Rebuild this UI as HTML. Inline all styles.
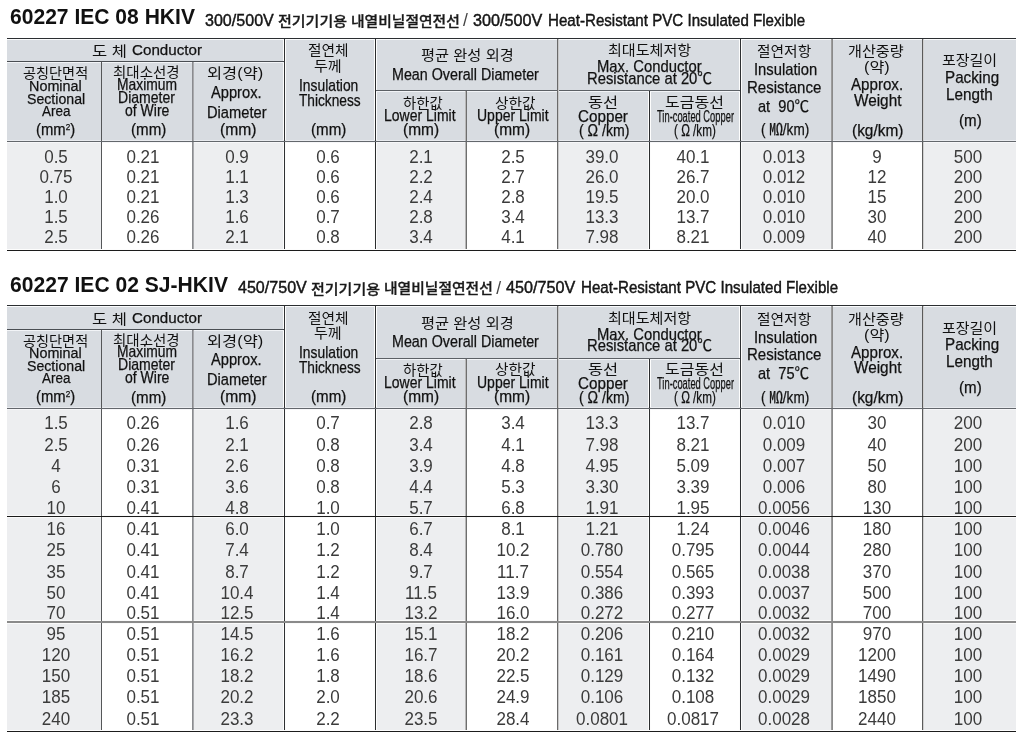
<!DOCTYPE html>
<html><head><meta charset="utf-8"><style>
html,body{margin:0;padding:0;background:#fff;}
body{width:1024px;height:741px;overflow:hidden;position:relative;font-family:"Liberation Sans", "Noto Sans CJK KR", "NanumGothic", sans-serif;}
.r{position:absolute;}
.t{position:absolute;text-align:center;white-space:nowrap;font-family:"Liberation Sans", Arial, sans-serif;}
.t.k{font-family:"Liberation Sans", "Noto Sans CJK KR", "NanumGothic", sans-serif;}
.h{position:absolute;white-space:nowrap;font-family:"Liberation Sans", Arial, sans-serif;-webkit-text-stroke:0.25px currentColor;}
.h.k{font-family:"Liberation Sans", "Noto Sans CJK KR", "NanumGothic", sans-serif;-webkit-text-stroke:0;}
.h.km{font-family:"Liberation Sans", "Noto Sans CJK KR", "NanumGothic", sans-serif;}
.tt{position:absolute;white-space:nowrap;color:#111;font-family:"Liberation Sans", "Noto Sans CJK KR", "NanumGothic", sans-serif;}
sup{font-size:55%;vertical-align:0;position:relative;top:-0.62em;line-height:0;}
</style></head><body>
<div class="h" style="left:9.80px;top:6px;font-size:22.6px;line-height:22.6px;color:#111;transform:scaleX(0.932);transform-origin:0 0;font-weight:bold;-webkit-text-stroke:0;">60227 IEC 08 HKIV</div>
<div class="h" style="left:9.80px;top:274px;font-size:22.6px;line-height:22.6px;color:#111;transform:scaleX(0.933);transform-origin:0 0;font-weight:bold;-webkit-text-stroke:0;">60227 IEC 02 SJ-HKIV</div>
<div class="h" style="left:204.80px;top:13px;font-size:16.9px;line-height:16.9px;color:#1a1a1a;-webkit-text-stroke:0.4px #000;transform:scaleX(0.951);transform-origin:0 0;">300/500V</div>
<div class="h k" style="left:277.90px;top:15px;font-size:13.3px;line-height:13.3px;color:#1a1a1a;-webkit-text-stroke:0.3px #1a1a1a !important;transform:scaleX(1.128);transform-origin:0 0;font-weight:500;">전기기기용</div>
<div class="h k" style="left:350.70px;top:15px;font-size:13.3px;line-height:13.3px;color:#1a1a1a;-webkit-text-stroke:0.3px #1a1a1a !important;transform:scaleX(1.112);transform-origin:0 0;font-weight:500;">내열비닐절연전선</div>
<div class="h" style="left:463.10px;top:12px;font-size:17.5px;line-height:17.5px;color:#1a1a1a;-webkit-text-stroke:0;color:#444;">/</div>
<div class="h" style="left:473.00px;top:13px;font-size:16.9px;line-height:16.9px;color:#1a1a1a;-webkit-text-stroke:0.4px #000;transform:scaleX(0.958);transform-origin:0 0;">300/500V</div>
<div class="h" style="left:548.00px;top:13px;font-size:16.9px;line-height:16.9px;color:#1a1a1a;-webkit-text-stroke:0.4px #000;transform:scaleX(0.895);transform-origin:0 0;">Heat-Resistant PVC Insulated Flexible</div>
<div class="h" style="left:238.00px;top:280px;font-size:16.9px;line-height:16.9px;color:#1a1a1a;-webkit-text-stroke:0.4px #000;transform:scaleX(0.951);transform-origin:0 0;">450/750V</div>
<div class="h k" style="left:311.10px;top:283px;font-size:13.3px;line-height:13.3px;color:#1a1a1a;-webkit-text-stroke:0.3px #1a1a1a !important;transform:scaleX(1.128);transform-origin:0 0;font-weight:500;">전기기기용</div>
<div class="h k" style="left:383.90px;top:282px;font-size:13.3px;line-height:13.3px;color:#1a1a1a;-webkit-text-stroke:0.3px #1a1a1a !important;transform:scaleX(1.112);transform-origin:0 0;font-weight:500;">내열비닐절연전선</div>
<div class="h" style="left:496.30px;top:280px;font-size:17.5px;line-height:17.5px;color:#1a1a1a;-webkit-text-stroke:0;color:#444;">/</div>
<div class="h" style="left:506.20px;top:280px;font-size:16.9px;line-height:16.9px;color:#1a1a1a;-webkit-text-stroke:0.4px #000;transform:scaleX(0.958);transform-origin:0 0;">450/750V</div>
<div class="h" style="left:581.20px;top:280px;font-size:16.9px;line-height:16.9px;color:#1a1a1a;-webkit-text-stroke:0.4px #000;transform:scaleX(0.895);transform-origin:0 0;">Heat-Resistant PVC Insulated Flexible</div>
<div class="r" style="left:7px;top:38px;width:1009px;height:103px;background:#d8dce1"></div>
<div class="r" style="left:7px;top:142px;width:94px;height:108px;background:#edeef0"></div>
<div class="r" style="left:101px;top:142px;width:91px;height:108px;background:#fff"></div>
<div class="r" style="left:192px;top:142px;width:92px;height:108px;background:#edeef0"></div>
<div class="r" style="left:284px;top:142px;width:91px;height:108px;background:#fff"></div>
<div class="r" style="left:375px;top:142px;width:91px;height:108px;background:#edeef0"></div>
<div class="r" style="left:466px;top:142px;width:91px;height:108px;background:#fff"></div>
<div class="r" style="left:557px;top:142px;width:92px;height:108px;background:#edeef0"></div>
<div class="r" style="left:649px;top:142px;width:91px;height:108px;background:#fff"></div>
<div class="r" style="left:740px;top:142px;width:92px;height:108px;background:#edeef0"></div>
<div class="r" style="left:832px;top:142px;width:90px;height:108px;background:#fff"></div>
<div class="r" style="left:922px;top:142px;width:94px;height:108px;background:#edeef0"></div>
<div class="r" style="left:283px;top:39px;width:1px;height:210px;background:#fdfdfd"></div>
<div class="r" style="left:285px;top:39px;width:1px;height:210px;background:#fdfdfd"></div>
<div class="r" style="left:374px;top:39px;width:1px;height:210px;background:#fdfdfd"></div>
<div class="r" style="left:376px;top:39px;width:1px;height:210px;background:#fdfdfd"></div>
<div class="r" style="left:648px;top:91px;width:1px;height:158px;background:#fdfdfd"></div>
<div class="r" style="left:650px;top:91px;width:1px;height:158px;background:#fdfdfd"></div>
<div class="r" style="left:739px;top:39px;width:1px;height:210px;background:#fdfdfd"></div>
<div class="r" style="left:741px;top:39px;width:1px;height:210px;background:#fdfdfd"></div>
<div class="r" style="left:7px;top:38px;width:1009px;height:1px;background:#2b2e31"></div>
<div class="r" style="left:7px;top:39px;width:1009px;height:1px;background:#fbfcfd"></div>
<div class="r" style="left:7px;top:61px;width:277px;height:1px;background:#4a4e53"></div>
<div class="r" style="left:7px;top:62px;width:277px;height:1px;background:#f2f4f7"></div>
<div class="r" style="left:375px;top:90px;width:365px;height:1px;background:#5c6065"></div>
<div class="r" style="left:375px;top:91px;width:365px;height:1px;background:#f2f4f7"></div>
<div class="r" style="left:7px;top:140px;width:1009px;height:1px;background:#e9ebef"></div>
<div class="r" style="left:7px;top:141px;width:1009px;height:1px;background:#63676c"></div>
<div class="r" style="left:7px;top:142px;width:1009px;height:1px;background:#f7f7f9"></div>
<div class="r" style="left:7px;top:249px;width:1009px;height:1px;background:#fdfdfd"></div>
<div class="r" style="left:7px;top:250px;width:1009px;height:1px;background:#1c1c1c"></div>
<div class="r" style="left:101px;top:62px;width:1px;height:187px;background:#555759"></div>
<div class="r" style="left:192px;top:62px;width:1px;height:187px;background:#8a8b8f"></div>
<div class="r" style="left:193px;top:62px;width:1px;height:187px;background:#a9aaad"></div>
<div class="r" style="left:284px;top:39px;width:1px;height:210px;background:#2e3032"></div>
<div class="r" style="left:375px;top:39px;width:1px;height:210px;background:#2b2d2e"></div>
<div class="r" style="left:465px;top:91px;width:1px;height:158px;background:#b8b8b8"></div>
<div class="r" style="left:466px;top:91px;width:1px;height:158px;background:#6e6e6e"></div>
<div class="r" style="left:557px;top:39px;width:1px;height:210px;background:#6a6a6a"></div>
<div class="r" style="left:558px;top:39px;width:1px;height:210px;background:#c8c8c8"></div>
<div class="r" style="left:649px;top:91px;width:1px;height:158px;background:#2b2d2f"></div>
<div class="r" style="left:740px;top:39px;width:1px;height:210px;background:#2e3032"></div>
<div class="r" style="left:831px;top:39px;width:1px;height:210px;background:#9c9c9c"></div>
<div class="r" style="left:832px;top:39px;width:1px;height:210px;background:#8a8a8a"></div>
<div class="r" style="left:922px;top:39px;width:1px;height:210px;background:#5a5a5a"></div>
<div class="r" style="left:923px;top:39px;width:1px;height:210px;background:#d0d0d0"></div>
<div class="r" style="left:7px;top:141px;width:1009px;height:1px;background:#63676c"></div>
<div class="r" style="left:7px;top:250px;width:1009px;height:1px;background:#1c1c1c"></div>
<div class="h k" style="left:91.80px;top:44px;font-size:14px;line-height:14px;color:#111;transform:scaleX(1.179);transform-origin:0 0;">도 체</div>
<div class="h" style="left:131.70px;top:42px;font-size:15.4px;line-height:15.4px;color:#111;transform:scaleX(0.986);transform-origin:0 0;">Conductor</div>
<div class="h k" style="left:22.90px;top:66px;font-size:14px;line-height:14px;color:#111;transform:scaleX(1.012);transform-origin:0 0;">공칭단면적</div>
<div class="h" style="left:29.30px;top:78px;font-size:15.4px;line-height:15.4px;color:#111;transform:scaleX(0.934);transform-origin:0 0;">Nominal</div>
<div class="h" style="left:27.00px;top:91px;font-size:15.4px;line-height:15.4px;color:#111;transform:scaleX(0.919);transform-origin:0 0;">Sectional</div>
<div class="h" style="left:41.90px;top:103px;font-size:15.4px;line-height:15.4px;color:#111;transform:scaleX(0.874);transform-origin:0 0;">Area</div>
<div class="h" style="left:35.90px;top:122px;font-size:15.95px;line-height:15.95px;color:#111;transform:scaleX(0.932);transform-origin:0 0;">(mm<sup>2</sup>)</div>
<div class="h k" style="left:113.30px;top:65px;font-size:14px;line-height:14px;color:#111;transform:scaleX(1.034);transform-origin:0 0;">최대소선경</div>
<div class="h" style="left:116.60px;top:77px;font-size:15.73px;line-height:15.73px;color:#111;transform:scaleX(0.881);transform-origin:0 0;">Maximum</div>
<div class="h" style="left:117.70px;top:90px;font-size:15.73px;line-height:15.73px;color:#111;transform:scaleX(0.893);transform-origin:0 0;">Diameter</div>
<div class="h" style="left:124.80px;top:103px;font-size:15.73px;line-height:15.73px;color:#111;transform:scaleX(0.892);transform-origin:0 0;">of Wire</div>
<div class="h" style="left:130.50px;top:122px;font-size:15.95px;line-height:15.95px;color:#111;transform:scaleX(0.95);transform-origin:0 0;">(mm)</div>
<div class="h k" style="left:207.40px;top:66px;font-size:14px;line-height:14px;color:#111;transform:scaleX(1.174);transform-origin:0 0;">외경(약)</div>
<div class="h" style="left:211.40px;top:85px;font-size:15.95px;line-height:15.95px;color:#111;transform:scaleX(0.921);transform-origin:0 0;">Approx.</div>
<div class="h" style="left:206.50px;top:105px;font-size:15.95px;line-height:15.95px;color:#111;transform:scaleX(0.921);transform-origin:0 0;">Diameter</div>
<div class="h" style="left:220.30px;top:122px;font-size:15.95px;line-height:15.95px;color:#111;transform:scaleX(0.982);transform-origin:0 0;">(mm)</div>
<div class="h k" style="left:308.30px;top:43px;font-size:14px;line-height:14px;color:#111;transform:scaleX(1.05);transform-origin:0 0;">절연체</div>
<div class="h k" style="left:314.00px;top:59px;font-size:14px;line-height:14px;color:#111;transform:scaleX(1.076);transform-origin:0 0;">두께</div>
<div class="h" style="left:298.70px;top:78px;font-size:15.73px;line-height:15.73px;color:#111;transform:scaleX(0.881);transform-origin:0 0;">Insulation</div>
<div class="h" style="left:298.70px;top:93px;font-size:15.73px;line-height:15.73px;color:#111;transform:scaleX(0.871);transform-origin:0 0;">Thickness</div>
<div class="h" style="left:311.00px;top:122px;font-size:15.95px;line-height:15.95px;color:#111;transform:scaleX(0.95);transform-origin:0 0;">(mm)</div>
<div class="h k" style="left:421.00px;top:48px;font-size:14px;line-height:14px;color:#111;transform:scaleX(1.09);transform-origin:0 0;">평균 완성 외경</div>
<div class="h" style="left:391.90px;top:67px;font-size:15.62px;line-height:15.62px;color:#111;transform:scaleX(0.915);transform-origin:0 0;">Mean Overall Diameter</div>
<div class="h k" style="left:402.90px;top:96px;font-size:14px;line-height:14px;color:#111;transform:scaleX(1.026);transform-origin:0 0;">하한값</div>
<div class="h" style="left:384.40px;top:108px;font-size:15.73px;line-height:15.73px;color:#111;transform:scaleX(0.89);transform-origin:0 0;">Lower Limit</div>
<div class="h" style="left:403.00px;top:122px;font-size:15.95px;line-height:15.95px;color:#111;transform:scaleX(0.971);transform-origin:0 0;">(mm)</div>
<div class="h k" style="left:494.80px;top:96px;font-size:14px;line-height:14px;color:#111;transform:scaleX(1.051);transform-origin:0 0;">상한값</div>
<div class="h" style="left:476.80px;top:108px;font-size:15.73px;line-height:15.73px;color:#111;transform:scaleX(0.891);transform-origin:0 0;">Upper Limit</div>
<div class="h" style="left:493.50px;top:122px;font-size:15.95px;line-height:15.95px;color:#111;transform:scaleX(0.971);transform-origin:0 0;">(mm)</div>
<div class="h k" style="left:608.40px;top:43px;font-size:14px;line-height:14px;color:#111;transform:scaleX(1.077);transform-origin:0 0;">최대도체저항</div>
<div class="h" style="left:597.30px;top:58px;font-size:16.17px;line-height:16.17px;color:#111;transform:scaleX(0.917);transform-origin:0 0;">Max. Conductor</div>
<div class="h km" style="left:586.50px;top:70px;font-size:16.17px;line-height:16.17px;color:#111;transform:scaleX(0.917);transform-origin:0 0;">Resistance at 20℃</div>
<div class="h k" style="left:588.30px;top:95px;font-size:14px;line-height:14px;color:#111;transform:scaleX(1.168);transform-origin:0 0;">동선</div>
<div class="h" style="left:578.10px;top:108px;font-size:16.17px;line-height:16.17px;color:#111;transform:scaleX(0.942);transform-origin:0 0;">Copper</div>
<div class="h km" style="left:578.60px;top:123px;font-size:15.95px;line-height:15.95px;color:#111;transform:scaleX(0.885);transform-origin:0 0;">( Ω /km)</div>
<div class="h k" style="left:665.20px;top:95px;font-size:14px;line-height:14px;color:#111;transform:scaleX(1.143);transform-origin:0 0;">도금동선</div>
<div class="h" style="left:657.20px;top:109px;font-size:15.95px;line-height:15.95px;color:#111;transform:scaleX(0.586);transform-origin:0 0;">Tin-coated Copper</div>
<div class="h km" style="left:674.40px;top:123px;font-size:15.95px;line-height:15.95px;color:#111;transform:scaleX(0.733);transform-origin:0 0;">( Ω /km)</div>
<div class="h k" style="left:757.40px;top:44px;font-size:14px;line-height:14px;color:#111;transform:scaleX(1.052);transform-origin:0 0;">절연저항</div>
<div class="h" style="left:753.70px;top:61px;font-size:16.17px;line-height:16.17px;color:#111;transform:scaleX(0.915);transform-origin:0 0;">Insulation</div>
<div class="h" style="left:747.40px;top:79px;font-size:16.17px;line-height:16.17px;color:#111;transform:scaleX(0.93);transform-origin:0 0;">Resistance</div>
<div class="h km" style="left:757.90px;top:98px;font-size:16.17px;line-height:16.17px;color:#111;transform:scaleX(0.904);transform-origin:0 0;">at&nbsp; 90℃</div>
<div class="h km" style="left:761.40px;top:122px;font-size:15.95px;line-height:15.95px;color:#111;transform:scaleX(0.851);transform-origin:0 0;">( ㏁/km)</div>
<div class="h k" style="left:848.10px;top:44px;font-size:14px;line-height:14px;color:#111;transform:scaleX(1.08);transform-origin:0 0;">개산중량</div>
<div class="h k" style="left:864.00px;top:60px;font-size:14px;line-height:14px;color:#111;transform:scaleX(1.153);transform-origin:0 0;">(약)</div>
<div class="h" style="left:851.30px;top:76px;font-size:16.5px;line-height:16.5px;color:#111;transform:scaleX(0.916);transform-origin:0 0;">Approx.</div>
<div class="h" style="left:854.00px;top:92px;font-size:16.5px;line-height:16.5px;color:#111;transform:scaleX(0.929);transform-origin:0 0;">Weight</div>
<div class="h" style="left:851.60px;top:122px;font-size:16.5px;line-height:16.5px;color:#111;transform:scaleX(0.936);transform-origin:0 0;">(kg/km)</div>
<div class="h k" style="left:942.30px;top:53px;font-size:14px;line-height:14px;color:#111;transform:scaleX(1.07);transform-origin:0 0;">포장길이</div>
<div class="h" style="left:944.80px;top:69px;font-size:16.17px;line-height:16.17px;color:#111;transform:scaleX(0.941);transform-origin:0 0;">Packing</div>
<div class="h" style="left:946.30px;top:86px;font-size:16.17px;line-height:16.17px;color:#111;transform:scaleX(0.943);transform-origin:0 0;">Length</div>
<div class="h" style="left:958.60px;top:112px;font-size:16.17px;line-height:16.17px;color:#111;transform:scaleX(0.937);transform-origin:0 0;">(m)</div>
<div class="t" style="left:-64.50px;top:147.65px;width:240px;font-size:18px;line-height:18px;color:#3b3b3b;transform:scaleX(0.945);">0.5</div>
<div class="t" style="left:23.30px;top:147.65px;width:240px;font-size:18px;line-height:18px;color:#3b3b3b;transform:scaleX(0.945);">0.21</div>
<div class="t" style="left:116.50px;top:147.65px;width:240px;font-size:18px;line-height:18px;color:#3b3b3b;transform:scaleX(0.945);">0.9</div>
<div class="t" style="left:208.00px;top:147.65px;width:240px;font-size:18px;line-height:18px;color:#3b3b3b;transform:scaleX(0.945);">0.6</div>
<div class="t" style="left:301.30px;top:147.65px;width:240px;font-size:18px;line-height:18px;color:#3b3b3b;transform:scaleX(0.945);">2.1</div>
<div class="t" style="left:393.00px;top:147.65px;width:240px;font-size:18px;line-height:18px;color:#3b3b3b;transform:scaleX(0.945);">2.5</div>
<div class="t" style="left:482.00px;top:147.65px;width:240px;font-size:18px;line-height:18px;color:#3b3b3b;transform:scaleX(0.945);">39.0</div>
<div class="t" style="left:573.00px;top:147.65px;width:240px;font-size:18px;line-height:18px;color:#3b3b3b;transform:scaleX(0.945);">40.1</div>
<div class="t" style="left:663.50px;top:147.65px;width:240px;font-size:18px;line-height:18px;color:#3b3b3b;transform:scaleX(0.945);">0.013</div>
<div class="t" style="left:757.00px;top:147.65px;width:240px;font-size:18px;line-height:18px;color:#3b3b3b;transform:scaleX(0.945);">9</div>
<div class="t" style="left:847.80px;top:147.65px;width:240px;font-size:18px;line-height:18px;color:#3b3b3b;transform:scaleX(0.945);">500</div>
<div class="t" style="left:-64.50px;top:167.65px;width:240px;font-size:18px;line-height:18px;color:#3b3b3b;transform:scaleX(0.945);">0.75</div>
<div class="t" style="left:23.30px;top:167.65px;width:240px;font-size:18px;line-height:18px;color:#3b3b3b;transform:scaleX(0.945);">0.21</div>
<div class="t" style="left:116.50px;top:167.65px;width:240px;font-size:18px;line-height:18px;color:#3b3b3b;transform:scaleX(0.945);">1.1</div>
<div class="t" style="left:208.00px;top:167.65px;width:240px;font-size:18px;line-height:18px;color:#3b3b3b;transform:scaleX(0.945);">0.6</div>
<div class="t" style="left:301.30px;top:167.65px;width:240px;font-size:18px;line-height:18px;color:#3b3b3b;transform:scaleX(0.945);">2.2</div>
<div class="t" style="left:393.00px;top:167.65px;width:240px;font-size:18px;line-height:18px;color:#3b3b3b;transform:scaleX(0.945);">2.7</div>
<div class="t" style="left:482.00px;top:167.65px;width:240px;font-size:18px;line-height:18px;color:#3b3b3b;transform:scaleX(0.945);">26.0</div>
<div class="t" style="left:573.00px;top:167.65px;width:240px;font-size:18px;line-height:18px;color:#3b3b3b;transform:scaleX(0.945);">26.7</div>
<div class="t" style="left:663.50px;top:167.65px;width:240px;font-size:18px;line-height:18px;color:#3b3b3b;transform:scaleX(0.945);">0.012</div>
<div class="t" style="left:757.00px;top:167.65px;width:240px;font-size:18px;line-height:18px;color:#3b3b3b;transform:scaleX(0.945);">12</div>
<div class="t" style="left:847.80px;top:167.65px;width:240px;font-size:18px;line-height:18px;color:#3b3b3b;transform:scaleX(0.945);">200</div>
<div class="t" style="left:-64.50px;top:187.65px;width:240px;font-size:18px;line-height:18px;color:#3b3b3b;transform:scaleX(0.945);">1.0</div>
<div class="t" style="left:23.30px;top:187.65px;width:240px;font-size:18px;line-height:18px;color:#3b3b3b;transform:scaleX(0.945);">0.21</div>
<div class="t" style="left:116.50px;top:187.65px;width:240px;font-size:18px;line-height:18px;color:#3b3b3b;transform:scaleX(0.945);">1.3</div>
<div class="t" style="left:208.00px;top:187.65px;width:240px;font-size:18px;line-height:18px;color:#3b3b3b;transform:scaleX(0.945);">0.6</div>
<div class="t" style="left:301.30px;top:187.65px;width:240px;font-size:18px;line-height:18px;color:#3b3b3b;transform:scaleX(0.945);">2.4</div>
<div class="t" style="left:393.00px;top:187.65px;width:240px;font-size:18px;line-height:18px;color:#3b3b3b;transform:scaleX(0.945);">2.8</div>
<div class="t" style="left:482.00px;top:187.65px;width:240px;font-size:18px;line-height:18px;color:#3b3b3b;transform:scaleX(0.945);">19.5</div>
<div class="t" style="left:573.00px;top:187.65px;width:240px;font-size:18px;line-height:18px;color:#3b3b3b;transform:scaleX(0.945);">20.0</div>
<div class="t" style="left:663.50px;top:187.65px;width:240px;font-size:18px;line-height:18px;color:#3b3b3b;transform:scaleX(0.945);">0.010</div>
<div class="t" style="left:757.00px;top:187.65px;width:240px;font-size:18px;line-height:18px;color:#3b3b3b;transform:scaleX(0.945);">15</div>
<div class="t" style="left:847.80px;top:187.65px;width:240px;font-size:18px;line-height:18px;color:#3b3b3b;transform:scaleX(0.945);">200</div>
<div class="t" style="left:-64.50px;top:207.65px;width:240px;font-size:18px;line-height:18px;color:#3b3b3b;transform:scaleX(0.945);">1.5</div>
<div class="t" style="left:23.30px;top:207.65px;width:240px;font-size:18px;line-height:18px;color:#3b3b3b;transform:scaleX(0.945);">0.26</div>
<div class="t" style="left:116.50px;top:207.65px;width:240px;font-size:18px;line-height:18px;color:#3b3b3b;transform:scaleX(0.945);">1.6</div>
<div class="t" style="left:208.00px;top:207.65px;width:240px;font-size:18px;line-height:18px;color:#3b3b3b;transform:scaleX(0.945);">0.7</div>
<div class="t" style="left:301.30px;top:207.65px;width:240px;font-size:18px;line-height:18px;color:#3b3b3b;transform:scaleX(0.945);">2.8</div>
<div class="t" style="left:393.00px;top:207.65px;width:240px;font-size:18px;line-height:18px;color:#3b3b3b;transform:scaleX(0.945);">3.4</div>
<div class="t" style="left:482.00px;top:207.65px;width:240px;font-size:18px;line-height:18px;color:#3b3b3b;transform:scaleX(0.945);">13.3</div>
<div class="t" style="left:573.00px;top:207.65px;width:240px;font-size:18px;line-height:18px;color:#3b3b3b;transform:scaleX(0.945);">13.7</div>
<div class="t" style="left:663.50px;top:207.65px;width:240px;font-size:18px;line-height:18px;color:#3b3b3b;transform:scaleX(0.945);">0.010</div>
<div class="t" style="left:757.00px;top:207.65px;width:240px;font-size:18px;line-height:18px;color:#3b3b3b;transform:scaleX(0.945);">30</div>
<div class="t" style="left:847.80px;top:207.65px;width:240px;font-size:18px;line-height:18px;color:#3b3b3b;transform:scaleX(0.945);">200</div>
<div class="t" style="left:-64.50px;top:227.65px;width:240px;font-size:18px;line-height:18px;color:#3b3b3b;transform:scaleX(0.945);">2.5</div>
<div class="t" style="left:23.30px;top:227.65px;width:240px;font-size:18px;line-height:18px;color:#3b3b3b;transform:scaleX(0.945);">0.26</div>
<div class="t" style="left:116.50px;top:227.65px;width:240px;font-size:18px;line-height:18px;color:#3b3b3b;transform:scaleX(0.945);">2.1</div>
<div class="t" style="left:208.00px;top:227.65px;width:240px;font-size:18px;line-height:18px;color:#3b3b3b;transform:scaleX(0.945);">0.8</div>
<div class="t" style="left:301.30px;top:227.65px;width:240px;font-size:18px;line-height:18px;color:#3b3b3b;transform:scaleX(0.945);">3.4</div>
<div class="t" style="left:393.00px;top:227.65px;width:240px;font-size:18px;line-height:18px;color:#3b3b3b;transform:scaleX(0.945);">4.1</div>
<div class="t" style="left:482.00px;top:227.65px;width:240px;font-size:18px;line-height:18px;color:#3b3b3b;transform:scaleX(0.945);">7.98</div>
<div class="t" style="left:573.00px;top:227.65px;width:240px;font-size:18px;line-height:18px;color:#3b3b3b;transform:scaleX(0.945);">8.21</div>
<div class="t" style="left:663.50px;top:227.65px;width:240px;font-size:18px;line-height:18px;color:#3b3b3b;transform:scaleX(0.945);">0.009</div>
<div class="t" style="left:757.00px;top:227.65px;width:240px;font-size:18px;line-height:18px;color:#3b3b3b;transform:scaleX(0.945);">40</div>
<div class="t" style="left:847.80px;top:227.65px;width:240px;font-size:18px;line-height:18px;color:#3b3b3b;transform:scaleX(0.945);">200</div>
<div class="r" style="left:7px;top:305px;width:1009px;height:103px;background:#d8dce1"></div>
<div class="r" style="left:7px;top:409px;width:94px;height:322px;background:#edeef0"></div>
<div class="r" style="left:101px;top:409px;width:91px;height:322px;background:#fff"></div>
<div class="r" style="left:192px;top:409px;width:92px;height:322px;background:#edeef0"></div>
<div class="r" style="left:284px;top:409px;width:91px;height:322px;background:#fff"></div>
<div class="r" style="left:375px;top:409px;width:91px;height:322px;background:#edeef0"></div>
<div class="r" style="left:466px;top:409px;width:91px;height:322px;background:#fff"></div>
<div class="r" style="left:557px;top:409px;width:92px;height:322px;background:#edeef0"></div>
<div class="r" style="left:649px;top:409px;width:91px;height:322px;background:#fff"></div>
<div class="r" style="left:740px;top:409px;width:92px;height:322px;background:#edeef0"></div>
<div class="r" style="left:832px;top:409px;width:90px;height:322px;background:#fff"></div>
<div class="r" style="left:922px;top:409px;width:94px;height:322px;background:#edeef0"></div>
<div class="r" style="left:283px;top:306px;width:1px;height:424px;background:#fdfdfd"></div>
<div class="r" style="left:285px;top:306px;width:1px;height:424px;background:#fdfdfd"></div>
<div class="r" style="left:374px;top:306px;width:1px;height:424px;background:#fdfdfd"></div>
<div class="r" style="left:376px;top:306px;width:1px;height:424px;background:#fdfdfd"></div>
<div class="r" style="left:648px;top:359px;width:1px;height:371px;background:#fdfdfd"></div>
<div class="r" style="left:650px;top:359px;width:1px;height:371px;background:#fdfdfd"></div>
<div class="r" style="left:739px;top:306px;width:1px;height:424px;background:#fdfdfd"></div>
<div class="r" style="left:741px;top:306px;width:1px;height:424px;background:#fdfdfd"></div>
<div class="r" style="left:7px;top:305px;width:1009px;height:1px;background:#2b2e31"></div>
<div class="r" style="left:7px;top:306px;width:1009px;height:1px;background:#fbfcfd"></div>
<div class="r" style="left:7px;top:329px;width:277px;height:1px;background:#4a4e53"></div>
<div class="r" style="left:7px;top:330px;width:277px;height:1px;background:#f2f4f7"></div>
<div class="r" style="left:375px;top:358px;width:365px;height:1px;background:#5c6065"></div>
<div class="r" style="left:375px;top:359px;width:365px;height:1px;background:#f2f4f7"></div>
<div class="r" style="left:7px;top:407px;width:1009px;height:1px;background:#e9ebef"></div>
<div class="r" style="left:7px;top:408px;width:1009px;height:1px;background:#63676c"></div>
<div class="r" style="left:7px;top:409px;width:1009px;height:1px;background:#f7f7f9"></div>
<div class="r" style="left:7px;top:730px;width:1009px;height:1px;background:#fdfdfd"></div>
<div class="r" style="left:7px;top:731px;width:1009px;height:1px;background:#1c1c1c"></div>
<div class="r" style="left:7px;top:515px;width:1009px;height:1px;background:#fafafa"></div>
<div class="r" style="left:7px;top:516px;width:1009px;height:1px;background:#1a1a1a"></div>
<div class="r" style="left:7px;top:517px;width:1009px;height:1px;background:#fafafa"></div>
<div class="r" style="left:7px;top:620px;width:1009px;height:1px;background:#fafafa"></div>
<div class="r" style="left:7px;top:621px;width:1009px;height:2px;background:#8a8a8a"></div>
<div class="r" style="left:7px;top:623px;width:1009px;height:1px;background:#fafafa"></div>
<div class="r" style="left:101px;top:330px;width:1px;height:400px;background:#555759"></div>
<div class="r" style="left:192px;top:330px;width:1px;height:400px;background:#8a8b8f"></div>
<div class="r" style="left:193px;top:330px;width:1px;height:400px;background:#a9aaad"></div>
<div class="r" style="left:284px;top:306px;width:1px;height:424px;background:#2e3032"></div>
<div class="r" style="left:375px;top:306px;width:1px;height:424px;background:#2b2d2e"></div>
<div class="r" style="left:465px;top:359px;width:1px;height:371px;background:#b8b8b8"></div>
<div class="r" style="left:466px;top:359px;width:1px;height:371px;background:#6e6e6e"></div>
<div class="r" style="left:557px;top:306px;width:1px;height:424px;background:#6a6a6a"></div>
<div class="r" style="left:558px;top:306px;width:1px;height:424px;background:#c8c8c8"></div>
<div class="r" style="left:649px;top:359px;width:1px;height:371px;background:#2b2d2f"></div>
<div class="r" style="left:740px;top:306px;width:1px;height:424px;background:#2e3032"></div>
<div class="r" style="left:831px;top:306px;width:1px;height:424px;background:#9c9c9c"></div>
<div class="r" style="left:832px;top:306px;width:1px;height:424px;background:#8a8a8a"></div>
<div class="r" style="left:922px;top:306px;width:1px;height:424px;background:#5a5a5a"></div>
<div class="r" style="left:923px;top:306px;width:1px;height:424px;background:#d0d0d0"></div>
<div class="r" style="left:7px;top:516px;width:1009px;height:1px;background:#1a1a1a"></div>
<div class="r" style="left:7px;top:621px;width:1009px;height:2px;background:#8a8a8a"></div>
<div class="r" style="left:7px;top:408px;width:1009px;height:1px;background:#63676c"></div>
<div class="r" style="left:7px;top:731px;width:1009px;height:1px;background:#1c1c1c"></div>
<div class="h k" style="left:91.80px;top:312px;font-size:14px;line-height:14px;color:#111;transform:scaleX(1.179);transform-origin:0 0;">도 체</div>
<div class="h" style="left:131.70px;top:310px;font-size:15.4px;line-height:15.4px;color:#111;transform:scaleX(0.986);transform-origin:0 0;">Conductor</div>
<div class="h k" style="left:22.90px;top:334px;font-size:14px;line-height:14px;color:#111;transform:scaleX(1.012);transform-origin:0 0;">공칭단면적</div>
<div class="h" style="left:29.30px;top:345px;font-size:15.4px;line-height:15.4px;color:#111;transform:scaleX(0.934);transform-origin:0 0;">Nominal</div>
<div class="h" style="left:27.00px;top:358px;font-size:15.4px;line-height:15.4px;color:#111;transform:scaleX(0.919);transform-origin:0 0;">Sectional</div>
<div class="h" style="left:41.90px;top:370px;font-size:15.4px;line-height:15.4px;color:#111;transform:scaleX(0.874);transform-origin:0 0;">Area</div>
<div class="h" style="left:35.90px;top:389px;font-size:15.95px;line-height:15.95px;color:#111;transform:scaleX(0.932);transform-origin:0 0;">(mm<sup>2</sup>)</div>
<div class="h k" style="left:113.30px;top:333px;font-size:14px;line-height:14px;color:#111;transform:scaleX(1.034);transform-origin:0 0;">최대소선경</div>
<div class="h" style="left:116.60px;top:344px;font-size:15.73px;line-height:15.73px;color:#111;transform:scaleX(0.881);transform-origin:0 0;">Maximum</div>
<div class="h" style="left:117.70px;top:357px;font-size:15.73px;line-height:15.73px;color:#111;transform:scaleX(0.893);transform-origin:0 0;">Diameter</div>
<div class="h" style="left:124.80px;top:370px;font-size:15.73px;line-height:15.73px;color:#111;transform:scaleX(0.892);transform-origin:0 0;">of Wire</div>
<div class="h" style="left:130.50px;top:390px;font-size:15.95px;line-height:15.95px;color:#111;transform:scaleX(0.95);transform-origin:0 0;">(mm)</div>
<div class="h k" style="left:207.40px;top:334px;font-size:14px;line-height:14px;color:#111;transform:scaleX(1.174);transform-origin:0 0;">외경(약)</div>
<div class="h" style="left:211.40px;top:352px;font-size:15.95px;line-height:15.95px;color:#111;transform:scaleX(0.921);transform-origin:0 0;">Approx.</div>
<div class="h" style="left:206.50px;top:372px;font-size:15.95px;line-height:15.95px;color:#111;transform:scaleX(0.921);transform-origin:0 0;">Diameter</div>
<div class="h" style="left:220.30px;top:389px;font-size:15.95px;line-height:15.95px;color:#111;transform:scaleX(0.982);transform-origin:0 0;">(mm)</div>
<div class="h k" style="left:308.30px;top:311px;font-size:14px;line-height:14px;color:#111;transform:scaleX(1.05);transform-origin:0 0;">절연체</div>
<div class="h k" style="left:314.00px;top:326px;font-size:14px;line-height:14px;color:#111;transform:scaleX(1.076);transform-origin:0 0;">두께</div>
<div class="h" style="left:298.70px;top:345px;font-size:15.73px;line-height:15.73px;color:#111;transform:scaleX(0.881);transform-origin:0 0;">Insulation</div>
<div class="h" style="left:298.70px;top:360px;font-size:15.73px;line-height:15.73px;color:#111;transform:scaleX(0.871);transform-origin:0 0;">Thickness</div>
<div class="h" style="left:311.00px;top:389px;font-size:15.95px;line-height:15.95px;color:#111;transform:scaleX(0.95);transform-origin:0 0;">(mm)</div>
<div class="h k" style="left:421.00px;top:316px;font-size:14px;line-height:14px;color:#111;transform:scaleX(1.09);transform-origin:0 0;">평균 완성 외경</div>
<div class="h" style="left:391.90px;top:334px;font-size:15.62px;line-height:15.62px;color:#111;transform:scaleX(0.915);transform-origin:0 0;">Mean Overall Diameter</div>
<div class="h k" style="left:402.90px;top:363px;font-size:14px;line-height:14px;color:#111;transform:scaleX(1.026);transform-origin:0 0;">하한값</div>
<div class="h" style="left:384.40px;top:375px;font-size:15.73px;line-height:15.73px;color:#111;transform:scaleX(0.89);transform-origin:0 0;">Lower Limit</div>
<div class="h" style="left:403.00px;top:389px;font-size:15.95px;line-height:15.95px;color:#111;transform:scaleX(0.971);transform-origin:0 0;">(mm)</div>
<div class="h k" style="left:494.80px;top:362px;font-size:14px;line-height:14px;color:#111;transform:scaleX(1.051);transform-origin:0 0;">상한값</div>
<div class="h" style="left:476.80px;top:375px;font-size:15.73px;line-height:15.73px;color:#111;transform:scaleX(0.891);transform-origin:0 0;">Upper Limit</div>
<div class="h" style="left:493.50px;top:389px;font-size:15.95px;line-height:15.95px;color:#111;transform:scaleX(0.971);transform-origin:0 0;">(mm)</div>
<div class="h k" style="left:608.40px;top:311px;font-size:14px;line-height:14px;color:#111;transform:scaleX(1.077);transform-origin:0 0;">최대도체저항</div>
<div class="h" style="left:597.30px;top:326px;font-size:16.17px;line-height:16.17px;color:#111;transform:scaleX(0.917);transform-origin:0 0;">Max. Conductor</div>
<div class="h km" style="left:586.50px;top:337px;font-size:16.17px;line-height:16.17px;color:#111;transform:scaleX(0.917);transform-origin:0 0;">Resistance at 20℃</div>
<div class="h k" style="left:588.30px;top:362px;font-size:14px;line-height:14px;color:#111;transform:scaleX(1.168);transform-origin:0 0;">동선</div>
<div class="h" style="left:578.10px;top:375px;font-size:16.17px;line-height:16.17px;color:#111;transform:scaleX(0.942);transform-origin:0 0;">Copper</div>
<div class="h km" style="left:578.60px;top:390px;font-size:15.95px;line-height:15.95px;color:#111;transform:scaleX(0.885);transform-origin:0 0;">( Ω /km)</div>
<div class="h k" style="left:665.20px;top:362px;font-size:14px;line-height:14px;color:#111;transform:scaleX(1.143);transform-origin:0 0;">도금동선</div>
<div class="h" style="left:657.20px;top:376px;font-size:15.95px;line-height:15.95px;color:#111;transform:scaleX(0.586);transform-origin:0 0;">Tin-coated Copper</div>
<div class="h km" style="left:674.40px;top:390px;font-size:15.95px;line-height:15.95px;color:#111;transform:scaleX(0.733);transform-origin:0 0;">( Ω /km)</div>
<div class="h k" style="left:757.40px;top:312px;font-size:14px;line-height:14px;color:#111;transform:scaleX(1.052);transform-origin:0 0;">절연저항</div>
<div class="h" style="left:753.70px;top:329px;font-size:16.17px;line-height:16.17px;color:#111;transform:scaleX(0.915);transform-origin:0 0;">Insulation</div>
<div class="h" style="left:747.40px;top:346px;font-size:16.17px;line-height:16.17px;color:#111;transform:scaleX(0.93);transform-origin:0 0;">Resistance</div>
<div class="h km" style="left:757.90px;top:365px;font-size:16.17px;line-height:16.17px;color:#111;transform:scaleX(0.904);transform-origin:0 0;">at&nbsp; 75℃</div>
<div class="h km" style="left:761.40px;top:390px;font-size:15.95px;line-height:15.95px;color:#111;transform:scaleX(0.851);transform-origin:0 0;">( ㏁/km)</div>
<div class="h k" style="left:848.10px;top:312px;font-size:14px;line-height:14px;color:#111;transform:scaleX(1.08);transform-origin:0 0;">개산중량</div>
<div class="h k" style="left:864.00px;top:328px;font-size:14px;line-height:14px;color:#111;transform:scaleX(1.153);transform-origin:0 0;">(약)</div>
<div class="h" style="left:851.30px;top:344px;font-size:16.5px;line-height:16.5px;color:#111;transform:scaleX(0.916);transform-origin:0 0;">Approx.</div>
<div class="h" style="left:854.00px;top:359px;font-size:16.5px;line-height:16.5px;color:#111;transform:scaleX(0.929);transform-origin:0 0;">Weight</div>
<div class="h" style="left:851.60px;top:389px;font-size:16.5px;line-height:16.5px;color:#111;transform:scaleX(0.936);transform-origin:0 0;">(kg/km)</div>
<div class="h k" style="left:942.30px;top:321px;font-size:14px;line-height:14px;color:#111;transform:scaleX(1.07);transform-origin:0 0;">포장길이</div>
<div class="h" style="left:944.80px;top:336px;font-size:16.17px;line-height:16.17px;color:#111;transform:scaleX(0.941);transform-origin:0 0;">Packing</div>
<div class="h" style="left:946.30px;top:353px;font-size:16.17px;line-height:16.17px;color:#111;transform:scaleX(0.943);transform-origin:0 0;">Length</div>
<div class="h" style="left:958.60px;top:379px;font-size:16.17px;line-height:16.17px;color:#111;transform:scaleX(0.937);transform-origin:0 0;">(m)</div>
<div class="t" style="left:-64.50px;top:413.65px;width:240px;font-size:18px;line-height:18px;color:#3b3b3b;transform:scaleX(0.945);">1.5</div>
<div class="t" style="left:23.30px;top:413.65px;width:240px;font-size:18px;line-height:18px;color:#3b3b3b;transform:scaleX(0.945);">0.26</div>
<div class="t" style="left:116.50px;top:413.65px;width:240px;font-size:18px;line-height:18px;color:#3b3b3b;transform:scaleX(0.945);">1.6</div>
<div class="t" style="left:208.00px;top:413.65px;width:240px;font-size:18px;line-height:18px;color:#3b3b3b;transform:scaleX(0.945);">0.7</div>
<div class="t" style="left:301.30px;top:413.65px;width:240px;font-size:18px;line-height:18px;color:#3b3b3b;transform:scaleX(0.945);">2.8</div>
<div class="t" style="left:393.00px;top:413.65px;width:240px;font-size:18px;line-height:18px;color:#3b3b3b;transform:scaleX(0.945);">3.4</div>
<div class="t" style="left:482.00px;top:413.65px;width:240px;font-size:18px;line-height:18px;color:#3b3b3b;transform:scaleX(0.945);">13.3</div>
<div class="t" style="left:573.00px;top:413.65px;width:240px;font-size:18px;line-height:18px;color:#3b3b3b;transform:scaleX(0.945);">13.7</div>
<div class="t" style="left:663.50px;top:413.65px;width:240px;font-size:18px;line-height:18px;color:#3b3b3b;transform:scaleX(0.945);">0.010</div>
<div class="t" style="left:757.00px;top:413.65px;width:240px;font-size:18px;line-height:18px;color:#3b3b3b;transform:scaleX(0.945);">30</div>
<div class="t" style="left:847.80px;top:413.65px;width:240px;font-size:18px;line-height:18px;color:#3b3b3b;transform:scaleX(0.945);">200</div>
<div class="t" style="left:-64.50px;top:435.65px;width:240px;font-size:18px;line-height:18px;color:#3b3b3b;transform:scaleX(0.945);">2.5</div>
<div class="t" style="left:23.30px;top:435.65px;width:240px;font-size:18px;line-height:18px;color:#3b3b3b;transform:scaleX(0.945);">0.26</div>
<div class="t" style="left:116.50px;top:435.65px;width:240px;font-size:18px;line-height:18px;color:#3b3b3b;transform:scaleX(0.945);">2.1</div>
<div class="t" style="left:208.00px;top:435.65px;width:240px;font-size:18px;line-height:18px;color:#3b3b3b;transform:scaleX(0.945);">0.8</div>
<div class="t" style="left:301.30px;top:435.65px;width:240px;font-size:18px;line-height:18px;color:#3b3b3b;transform:scaleX(0.945);">3.4</div>
<div class="t" style="left:393.00px;top:435.65px;width:240px;font-size:18px;line-height:18px;color:#3b3b3b;transform:scaleX(0.945);">4.1</div>
<div class="t" style="left:482.00px;top:435.65px;width:240px;font-size:18px;line-height:18px;color:#3b3b3b;transform:scaleX(0.945);">7.98</div>
<div class="t" style="left:573.00px;top:435.65px;width:240px;font-size:18px;line-height:18px;color:#3b3b3b;transform:scaleX(0.945);">8.21</div>
<div class="t" style="left:663.50px;top:435.65px;width:240px;font-size:18px;line-height:18px;color:#3b3b3b;transform:scaleX(0.945);">0.009</div>
<div class="t" style="left:757.00px;top:435.65px;width:240px;font-size:18px;line-height:18px;color:#3b3b3b;transform:scaleX(0.945);">40</div>
<div class="t" style="left:847.80px;top:435.65px;width:240px;font-size:18px;line-height:18px;color:#3b3b3b;transform:scaleX(0.945);">200</div>
<div class="t" style="left:-64.50px;top:456.65px;width:240px;font-size:18px;line-height:18px;color:#3b3b3b;transform:scaleX(0.945);">4</div>
<div class="t" style="left:23.30px;top:456.65px;width:240px;font-size:18px;line-height:18px;color:#3b3b3b;transform:scaleX(0.945);">0.31</div>
<div class="t" style="left:116.50px;top:456.65px;width:240px;font-size:18px;line-height:18px;color:#3b3b3b;transform:scaleX(0.945);">2.6</div>
<div class="t" style="left:208.00px;top:456.65px;width:240px;font-size:18px;line-height:18px;color:#3b3b3b;transform:scaleX(0.945);">0.8</div>
<div class="t" style="left:301.30px;top:456.65px;width:240px;font-size:18px;line-height:18px;color:#3b3b3b;transform:scaleX(0.945);">3.9</div>
<div class="t" style="left:393.00px;top:456.65px;width:240px;font-size:18px;line-height:18px;color:#3b3b3b;transform:scaleX(0.945);">4.8</div>
<div class="t" style="left:482.00px;top:456.65px;width:240px;font-size:18px;line-height:18px;color:#3b3b3b;transform:scaleX(0.945);">4.95</div>
<div class="t" style="left:573.00px;top:456.65px;width:240px;font-size:18px;line-height:18px;color:#3b3b3b;transform:scaleX(0.945);">5.09</div>
<div class="t" style="left:663.50px;top:456.65px;width:240px;font-size:18px;line-height:18px;color:#3b3b3b;transform:scaleX(0.945);">0.007</div>
<div class="t" style="left:757.00px;top:456.65px;width:240px;font-size:18px;line-height:18px;color:#3b3b3b;transform:scaleX(0.945);">50</div>
<div class="t" style="left:847.80px;top:456.65px;width:240px;font-size:18px;line-height:18px;color:#3b3b3b;transform:scaleX(0.945);">100</div>
<div class="t" style="left:-64.50px;top:477.65px;width:240px;font-size:18px;line-height:18px;color:#3b3b3b;transform:scaleX(0.945);">6</div>
<div class="t" style="left:23.30px;top:477.65px;width:240px;font-size:18px;line-height:18px;color:#3b3b3b;transform:scaleX(0.945);">0.31</div>
<div class="t" style="left:116.50px;top:477.65px;width:240px;font-size:18px;line-height:18px;color:#3b3b3b;transform:scaleX(0.945);">3.6</div>
<div class="t" style="left:208.00px;top:477.65px;width:240px;font-size:18px;line-height:18px;color:#3b3b3b;transform:scaleX(0.945);">0.8</div>
<div class="t" style="left:301.30px;top:477.65px;width:240px;font-size:18px;line-height:18px;color:#3b3b3b;transform:scaleX(0.945);">4.4</div>
<div class="t" style="left:393.00px;top:477.65px;width:240px;font-size:18px;line-height:18px;color:#3b3b3b;transform:scaleX(0.945);">5.3</div>
<div class="t" style="left:482.00px;top:477.65px;width:240px;font-size:18px;line-height:18px;color:#3b3b3b;transform:scaleX(0.945);">3.30</div>
<div class="t" style="left:573.00px;top:477.65px;width:240px;font-size:18px;line-height:18px;color:#3b3b3b;transform:scaleX(0.945);">3.39</div>
<div class="t" style="left:663.50px;top:477.65px;width:240px;font-size:18px;line-height:18px;color:#3b3b3b;transform:scaleX(0.945);">0.006</div>
<div class="t" style="left:757.00px;top:477.65px;width:240px;font-size:18px;line-height:18px;color:#3b3b3b;transform:scaleX(0.945);">80</div>
<div class="t" style="left:847.80px;top:477.65px;width:240px;font-size:18px;line-height:18px;color:#3b3b3b;transform:scaleX(0.945);">100</div>
<div class="t" style="left:-64.50px;top:498.65px;width:240px;font-size:18px;line-height:18px;color:#3b3b3b;transform:scaleX(0.945);">10</div>
<div class="t" style="left:23.30px;top:498.65px;width:240px;font-size:18px;line-height:18px;color:#3b3b3b;transform:scaleX(0.945);">0.41</div>
<div class="t" style="left:116.50px;top:498.65px;width:240px;font-size:18px;line-height:18px;color:#3b3b3b;transform:scaleX(0.945);">4.8</div>
<div class="t" style="left:208.00px;top:498.65px;width:240px;font-size:18px;line-height:18px;color:#3b3b3b;transform:scaleX(0.945);">1.0</div>
<div class="t" style="left:301.30px;top:498.65px;width:240px;font-size:18px;line-height:18px;color:#3b3b3b;transform:scaleX(0.945);">5.7</div>
<div class="t" style="left:393.00px;top:498.65px;width:240px;font-size:18px;line-height:18px;color:#3b3b3b;transform:scaleX(0.945);">6.8</div>
<div class="t" style="left:482.00px;top:498.65px;width:240px;font-size:18px;line-height:18px;color:#3b3b3b;transform:scaleX(0.945);">1.91</div>
<div class="t" style="left:573.00px;top:498.65px;width:240px;font-size:18px;line-height:18px;color:#3b3b3b;transform:scaleX(0.945);">1.95</div>
<div class="t" style="left:663.50px;top:498.65px;width:240px;font-size:18px;line-height:18px;color:#3b3b3b;transform:scaleX(0.945);">0.0056</div>
<div class="t" style="left:757.00px;top:498.65px;width:240px;font-size:18px;line-height:18px;color:#3b3b3b;transform:scaleX(0.945);">130</div>
<div class="t" style="left:847.80px;top:498.65px;width:240px;font-size:18px;line-height:18px;color:#3b3b3b;transform:scaleX(0.945);">100</div>
<div class="t" style="left:-64.50px;top:519.65px;width:240px;font-size:18px;line-height:18px;color:#3b3b3b;transform:scaleX(0.945);">16</div>
<div class="t" style="left:23.30px;top:519.65px;width:240px;font-size:18px;line-height:18px;color:#3b3b3b;transform:scaleX(0.945);">0.41</div>
<div class="t" style="left:116.50px;top:519.65px;width:240px;font-size:18px;line-height:18px;color:#3b3b3b;transform:scaleX(0.945);">6.0</div>
<div class="t" style="left:208.00px;top:519.65px;width:240px;font-size:18px;line-height:18px;color:#3b3b3b;transform:scaleX(0.945);">1.0</div>
<div class="t" style="left:301.30px;top:519.65px;width:240px;font-size:18px;line-height:18px;color:#3b3b3b;transform:scaleX(0.945);">6.7</div>
<div class="t" style="left:393.00px;top:519.65px;width:240px;font-size:18px;line-height:18px;color:#3b3b3b;transform:scaleX(0.945);">8.1</div>
<div class="t" style="left:482.00px;top:519.65px;width:240px;font-size:18px;line-height:18px;color:#3b3b3b;transform:scaleX(0.945);">1.21</div>
<div class="t" style="left:573.00px;top:519.65px;width:240px;font-size:18px;line-height:18px;color:#3b3b3b;transform:scaleX(0.945);">1.24</div>
<div class="t" style="left:663.50px;top:519.65px;width:240px;font-size:18px;line-height:18px;color:#3b3b3b;transform:scaleX(0.945);">0.0046</div>
<div class="t" style="left:757.00px;top:519.65px;width:240px;font-size:18px;line-height:18px;color:#3b3b3b;transform:scaleX(0.945);">180</div>
<div class="t" style="left:847.80px;top:519.65px;width:240px;font-size:18px;line-height:18px;color:#3b3b3b;transform:scaleX(0.945);">100</div>
<div class="t" style="left:-64.50px;top:540.65px;width:240px;font-size:18px;line-height:18px;color:#3b3b3b;transform:scaleX(0.945);">25</div>
<div class="t" style="left:23.30px;top:540.65px;width:240px;font-size:18px;line-height:18px;color:#3b3b3b;transform:scaleX(0.945);">0.41</div>
<div class="t" style="left:116.50px;top:540.65px;width:240px;font-size:18px;line-height:18px;color:#3b3b3b;transform:scaleX(0.945);">7.4</div>
<div class="t" style="left:208.00px;top:540.65px;width:240px;font-size:18px;line-height:18px;color:#3b3b3b;transform:scaleX(0.945);">1.2</div>
<div class="t" style="left:301.30px;top:540.65px;width:240px;font-size:18px;line-height:18px;color:#3b3b3b;transform:scaleX(0.945);">8.4</div>
<div class="t" style="left:393.00px;top:540.65px;width:240px;font-size:18px;line-height:18px;color:#3b3b3b;transform:scaleX(0.945);">10.2</div>
<div class="t" style="left:482.00px;top:540.65px;width:240px;font-size:18px;line-height:18px;color:#3b3b3b;transform:scaleX(0.945);">0.780</div>
<div class="t" style="left:573.00px;top:540.65px;width:240px;font-size:18px;line-height:18px;color:#3b3b3b;transform:scaleX(0.945);">0.795</div>
<div class="t" style="left:663.50px;top:540.65px;width:240px;font-size:18px;line-height:18px;color:#3b3b3b;transform:scaleX(0.945);">0.0044</div>
<div class="t" style="left:757.00px;top:540.65px;width:240px;font-size:18px;line-height:18px;color:#3b3b3b;transform:scaleX(0.945);">280</div>
<div class="t" style="left:847.80px;top:540.65px;width:240px;font-size:18px;line-height:18px;color:#3b3b3b;transform:scaleX(0.945);">100</div>
<div class="t" style="left:-64.50px;top:562.65px;width:240px;font-size:18px;line-height:18px;color:#3b3b3b;transform:scaleX(0.945);">35</div>
<div class="t" style="left:23.30px;top:562.65px;width:240px;font-size:18px;line-height:18px;color:#3b3b3b;transform:scaleX(0.945);">0.41</div>
<div class="t" style="left:116.50px;top:562.65px;width:240px;font-size:18px;line-height:18px;color:#3b3b3b;transform:scaleX(0.945);">8.7</div>
<div class="t" style="left:208.00px;top:562.65px;width:240px;font-size:18px;line-height:18px;color:#3b3b3b;transform:scaleX(0.945);">1.2</div>
<div class="t" style="left:301.30px;top:562.65px;width:240px;font-size:18px;line-height:18px;color:#3b3b3b;transform:scaleX(0.945);">9.7</div>
<div class="t" style="left:393.00px;top:562.65px;width:240px;font-size:18px;line-height:18px;color:#3b3b3b;transform:scaleX(0.945);">11.7</div>
<div class="t" style="left:482.00px;top:562.65px;width:240px;font-size:18px;line-height:18px;color:#3b3b3b;transform:scaleX(0.945);">0.554</div>
<div class="t" style="left:573.00px;top:562.65px;width:240px;font-size:18px;line-height:18px;color:#3b3b3b;transform:scaleX(0.945);">0.565</div>
<div class="t" style="left:663.50px;top:562.65px;width:240px;font-size:18px;line-height:18px;color:#3b3b3b;transform:scaleX(0.945);">0.0038</div>
<div class="t" style="left:757.00px;top:562.65px;width:240px;font-size:18px;line-height:18px;color:#3b3b3b;transform:scaleX(0.945);">370</div>
<div class="t" style="left:847.80px;top:562.65px;width:240px;font-size:18px;line-height:18px;color:#3b3b3b;transform:scaleX(0.945);">100</div>
<div class="t" style="left:-64.50px;top:583.65px;width:240px;font-size:18px;line-height:18px;color:#3b3b3b;transform:scaleX(0.945);">50</div>
<div class="t" style="left:23.30px;top:583.65px;width:240px;font-size:18px;line-height:18px;color:#3b3b3b;transform:scaleX(0.945);">0.41</div>
<div class="t" style="left:116.50px;top:583.65px;width:240px;font-size:18px;line-height:18px;color:#3b3b3b;transform:scaleX(0.945);">10.4</div>
<div class="t" style="left:208.00px;top:583.65px;width:240px;font-size:18px;line-height:18px;color:#3b3b3b;transform:scaleX(0.945);">1.4</div>
<div class="t" style="left:301.30px;top:583.65px;width:240px;font-size:18px;line-height:18px;color:#3b3b3b;transform:scaleX(0.945);">11.5</div>
<div class="t" style="left:393.00px;top:583.65px;width:240px;font-size:18px;line-height:18px;color:#3b3b3b;transform:scaleX(0.945);">13.9</div>
<div class="t" style="left:482.00px;top:583.65px;width:240px;font-size:18px;line-height:18px;color:#3b3b3b;transform:scaleX(0.945);">0.386</div>
<div class="t" style="left:573.00px;top:583.65px;width:240px;font-size:18px;line-height:18px;color:#3b3b3b;transform:scaleX(0.945);">0.393</div>
<div class="t" style="left:663.50px;top:583.65px;width:240px;font-size:18px;line-height:18px;color:#3b3b3b;transform:scaleX(0.945);">0.0037</div>
<div class="t" style="left:757.00px;top:583.65px;width:240px;font-size:18px;line-height:18px;color:#3b3b3b;transform:scaleX(0.945);">500</div>
<div class="t" style="left:847.80px;top:583.65px;width:240px;font-size:18px;line-height:18px;color:#3b3b3b;transform:scaleX(0.945);">100</div>
<div class="t" style="left:-64.50px;top:603.65px;width:240px;font-size:18px;line-height:18px;color:#3b3b3b;transform:scaleX(0.945);">70</div>
<div class="t" style="left:23.30px;top:603.65px;width:240px;font-size:18px;line-height:18px;color:#3b3b3b;transform:scaleX(0.945);">0.51</div>
<div class="t" style="left:116.50px;top:603.65px;width:240px;font-size:18px;line-height:18px;color:#3b3b3b;transform:scaleX(0.945);">12.5</div>
<div class="t" style="left:208.00px;top:603.65px;width:240px;font-size:18px;line-height:18px;color:#3b3b3b;transform:scaleX(0.945);">1.4</div>
<div class="t" style="left:301.30px;top:603.65px;width:240px;font-size:18px;line-height:18px;color:#3b3b3b;transform:scaleX(0.945);">13.2</div>
<div class="t" style="left:393.00px;top:603.65px;width:240px;font-size:18px;line-height:18px;color:#3b3b3b;transform:scaleX(0.945);">16.0</div>
<div class="t" style="left:482.00px;top:603.65px;width:240px;font-size:18px;line-height:18px;color:#3b3b3b;transform:scaleX(0.945);">0.272</div>
<div class="t" style="left:573.00px;top:603.65px;width:240px;font-size:18px;line-height:18px;color:#3b3b3b;transform:scaleX(0.945);">0.277</div>
<div class="t" style="left:663.50px;top:603.65px;width:240px;font-size:18px;line-height:18px;color:#3b3b3b;transform:scaleX(0.945);">0.0032</div>
<div class="t" style="left:757.00px;top:603.65px;width:240px;font-size:18px;line-height:18px;color:#3b3b3b;transform:scaleX(0.945);">700</div>
<div class="t" style="left:847.80px;top:603.65px;width:240px;font-size:18px;line-height:18px;color:#3b3b3b;transform:scaleX(0.945);">100</div>
<div class="t" style="left:-64.50px;top:624.65px;width:240px;font-size:18px;line-height:18px;color:#3b3b3b;transform:scaleX(0.945);">95</div>
<div class="t" style="left:23.30px;top:624.65px;width:240px;font-size:18px;line-height:18px;color:#3b3b3b;transform:scaleX(0.945);">0.51</div>
<div class="t" style="left:116.50px;top:624.65px;width:240px;font-size:18px;line-height:18px;color:#3b3b3b;transform:scaleX(0.945);">14.5</div>
<div class="t" style="left:208.00px;top:624.65px;width:240px;font-size:18px;line-height:18px;color:#3b3b3b;transform:scaleX(0.945);">1.6</div>
<div class="t" style="left:301.30px;top:624.65px;width:240px;font-size:18px;line-height:18px;color:#3b3b3b;transform:scaleX(0.945);">15.1</div>
<div class="t" style="left:393.00px;top:624.65px;width:240px;font-size:18px;line-height:18px;color:#3b3b3b;transform:scaleX(0.945);">18.2</div>
<div class="t" style="left:482.00px;top:624.65px;width:240px;font-size:18px;line-height:18px;color:#3b3b3b;transform:scaleX(0.945);">0.206</div>
<div class="t" style="left:573.00px;top:624.65px;width:240px;font-size:18px;line-height:18px;color:#3b3b3b;transform:scaleX(0.945);">0.210</div>
<div class="t" style="left:663.50px;top:624.65px;width:240px;font-size:18px;line-height:18px;color:#3b3b3b;transform:scaleX(0.945);">0.0032</div>
<div class="t" style="left:757.00px;top:624.65px;width:240px;font-size:18px;line-height:18px;color:#3b3b3b;transform:scaleX(0.945);">970</div>
<div class="t" style="left:847.80px;top:624.65px;width:240px;font-size:18px;line-height:18px;color:#3b3b3b;transform:scaleX(0.945);">100</div>
<div class="t" style="left:-64.50px;top:645.65px;width:240px;font-size:18px;line-height:18px;color:#3b3b3b;transform:scaleX(0.945);">120</div>
<div class="t" style="left:23.30px;top:645.65px;width:240px;font-size:18px;line-height:18px;color:#3b3b3b;transform:scaleX(0.945);">0.51</div>
<div class="t" style="left:116.50px;top:645.65px;width:240px;font-size:18px;line-height:18px;color:#3b3b3b;transform:scaleX(0.945);">16.2</div>
<div class="t" style="left:208.00px;top:645.65px;width:240px;font-size:18px;line-height:18px;color:#3b3b3b;transform:scaleX(0.945);">1.6</div>
<div class="t" style="left:301.30px;top:645.65px;width:240px;font-size:18px;line-height:18px;color:#3b3b3b;transform:scaleX(0.945);">16.7</div>
<div class="t" style="left:393.00px;top:645.65px;width:240px;font-size:18px;line-height:18px;color:#3b3b3b;transform:scaleX(0.945);">20.2</div>
<div class="t" style="left:482.00px;top:645.65px;width:240px;font-size:18px;line-height:18px;color:#3b3b3b;transform:scaleX(0.945);">0.161</div>
<div class="t" style="left:573.00px;top:645.65px;width:240px;font-size:18px;line-height:18px;color:#3b3b3b;transform:scaleX(0.945);">0.164</div>
<div class="t" style="left:663.50px;top:645.65px;width:240px;font-size:18px;line-height:18px;color:#3b3b3b;transform:scaleX(0.945);">0.0029</div>
<div class="t" style="left:757.00px;top:645.65px;width:240px;font-size:18px;line-height:18px;color:#3b3b3b;transform:scaleX(0.945);">1200</div>
<div class="t" style="left:847.80px;top:645.65px;width:240px;font-size:18px;line-height:18px;color:#3b3b3b;transform:scaleX(0.945);">100</div>
<div class="t" style="left:-64.50px;top:666.65px;width:240px;font-size:18px;line-height:18px;color:#3b3b3b;transform:scaleX(0.945);">150</div>
<div class="t" style="left:23.30px;top:666.65px;width:240px;font-size:18px;line-height:18px;color:#3b3b3b;transform:scaleX(0.945);">0.51</div>
<div class="t" style="left:116.50px;top:666.65px;width:240px;font-size:18px;line-height:18px;color:#3b3b3b;transform:scaleX(0.945);">18.2</div>
<div class="t" style="left:208.00px;top:666.65px;width:240px;font-size:18px;line-height:18px;color:#3b3b3b;transform:scaleX(0.945);">1.8</div>
<div class="t" style="left:301.30px;top:666.65px;width:240px;font-size:18px;line-height:18px;color:#3b3b3b;transform:scaleX(0.945);">18.6</div>
<div class="t" style="left:393.00px;top:666.65px;width:240px;font-size:18px;line-height:18px;color:#3b3b3b;transform:scaleX(0.945);">22.5</div>
<div class="t" style="left:482.00px;top:666.65px;width:240px;font-size:18px;line-height:18px;color:#3b3b3b;transform:scaleX(0.945);">0.129</div>
<div class="t" style="left:573.00px;top:666.65px;width:240px;font-size:18px;line-height:18px;color:#3b3b3b;transform:scaleX(0.945);">0.132</div>
<div class="t" style="left:663.50px;top:666.65px;width:240px;font-size:18px;line-height:18px;color:#3b3b3b;transform:scaleX(0.945);">0.0029</div>
<div class="t" style="left:757.00px;top:666.65px;width:240px;font-size:18px;line-height:18px;color:#3b3b3b;transform:scaleX(0.945);">1490</div>
<div class="t" style="left:847.80px;top:666.65px;width:240px;font-size:18px;line-height:18px;color:#3b3b3b;transform:scaleX(0.945);">100</div>
<div class="t" style="left:-64.50px;top:687.65px;width:240px;font-size:18px;line-height:18px;color:#3b3b3b;transform:scaleX(0.945);">185</div>
<div class="t" style="left:23.30px;top:687.65px;width:240px;font-size:18px;line-height:18px;color:#3b3b3b;transform:scaleX(0.945);">0.51</div>
<div class="t" style="left:116.50px;top:687.65px;width:240px;font-size:18px;line-height:18px;color:#3b3b3b;transform:scaleX(0.945);">20.2</div>
<div class="t" style="left:208.00px;top:687.65px;width:240px;font-size:18px;line-height:18px;color:#3b3b3b;transform:scaleX(0.945);">2.0</div>
<div class="t" style="left:301.30px;top:687.65px;width:240px;font-size:18px;line-height:18px;color:#3b3b3b;transform:scaleX(0.945);">20.6</div>
<div class="t" style="left:393.00px;top:687.65px;width:240px;font-size:18px;line-height:18px;color:#3b3b3b;transform:scaleX(0.945);">24.9</div>
<div class="t" style="left:482.00px;top:687.65px;width:240px;font-size:18px;line-height:18px;color:#3b3b3b;transform:scaleX(0.945);">0.106</div>
<div class="t" style="left:573.00px;top:687.65px;width:240px;font-size:18px;line-height:18px;color:#3b3b3b;transform:scaleX(0.945);">0.108</div>
<div class="t" style="left:663.50px;top:687.65px;width:240px;font-size:18px;line-height:18px;color:#3b3b3b;transform:scaleX(0.945);">0.0029</div>
<div class="t" style="left:757.00px;top:687.65px;width:240px;font-size:18px;line-height:18px;color:#3b3b3b;transform:scaleX(0.945);">1850</div>
<div class="t" style="left:847.80px;top:687.65px;width:240px;font-size:18px;line-height:18px;color:#3b3b3b;transform:scaleX(0.945);">100</div>
<div class="t" style="left:-64.50px;top:709.65px;width:240px;font-size:18px;line-height:18px;color:#3b3b3b;transform:scaleX(0.945);">240</div>
<div class="t" style="left:23.30px;top:709.65px;width:240px;font-size:18px;line-height:18px;color:#3b3b3b;transform:scaleX(0.945);">0.51</div>
<div class="t" style="left:116.50px;top:709.65px;width:240px;font-size:18px;line-height:18px;color:#3b3b3b;transform:scaleX(0.945);">23.3</div>
<div class="t" style="left:208.00px;top:709.65px;width:240px;font-size:18px;line-height:18px;color:#3b3b3b;transform:scaleX(0.945);">2.2</div>
<div class="t" style="left:301.30px;top:709.65px;width:240px;font-size:18px;line-height:18px;color:#3b3b3b;transform:scaleX(0.945);">23.5</div>
<div class="t" style="left:393.00px;top:709.65px;width:240px;font-size:18px;line-height:18px;color:#3b3b3b;transform:scaleX(0.945);">28.4</div>
<div class="t" style="left:482.00px;top:709.65px;width:240px;font-size:18px;line-height:18px;color:#3b3b3b;transform:scaleX(0.945);">0.0801</div>
<div class="t" style="left:573.00px;top:709.65px;width:240px;font-size:18px;line-height:18px;color:#3b3b3b;transform:scaleX(0.945);">0.0817</div>
<div class="t" style="left:663.50px;top:709.65px;width:240px;font-size:18px;line-height:18px;color:#3b3b3b;transform:scaleX(0.945);">0.0028</div>
<div class="t" style="left:757.00px;top:709.65px;width:240px;font-size:18px;line-height:18px;color:#3b3b3b;transform:scaleX(0.945);">2440</div>
<div class="t" style="left:847.80px;top:709.65px;width:240px;font-size:18px;line-height:18px;color:#3b3b3b;transform:scaleX(0.945);">100</div>
</body></html>
